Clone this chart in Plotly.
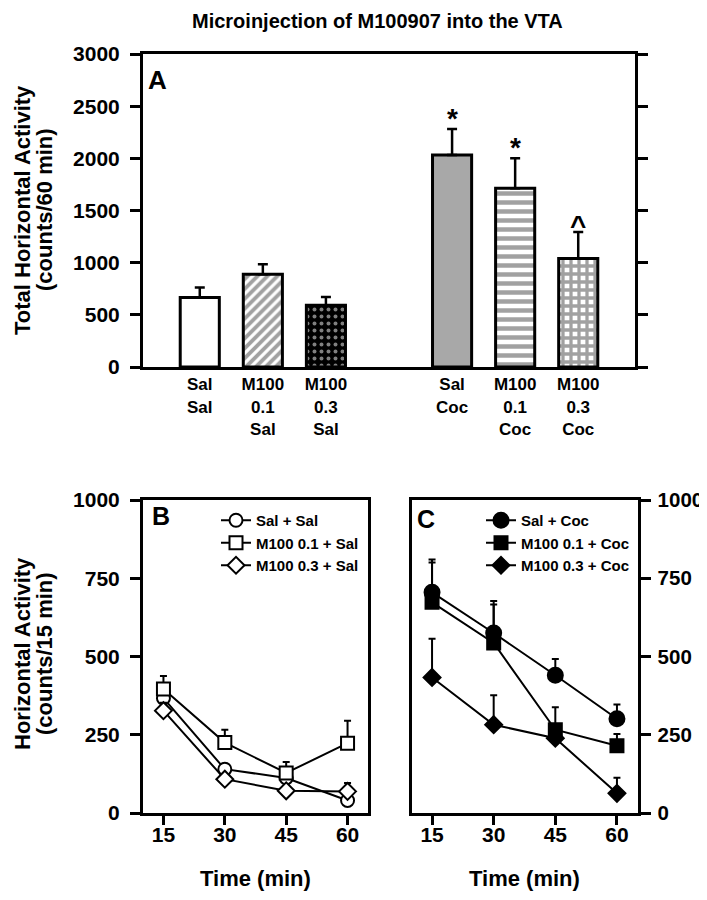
import plotly.graph_objects as go

# ---------------- data ----------------
# Panel A: total horizontal activity (counts/60 min)
bar_labels = ["Sal<br>Sal", "M100<br>0.1<br>Sal", "M100<br>0.3<br>Sal",
              "Sal<br>Coc", "M100<br>0.1<br>Coc", "M100<br>0.3<br>Coc"]
bar_means = [666, 890, 593, 2033, 1714, 1040]
bar_sem = [96, 96, 77, 249, 287, 253]
bar_marks = ["", "", "", "*", "*", "^"]
a_yticks = [0, 500, 1000, 1500, 2000, 2500, 3000]

# Panels B and C: horizontal activity (counts/15 min)
time_min = [15, 30, 45, 60]
line_yticks = [0, 250, 500, 750, 1000]

b_names = ["Sal + Sal", "M100 0.1 + Sal", "M100 0.3 + Sal"]
b_means = [[367, 140, 112, 40], [396, 225, 128, 223], [327, 108, 71, 69]]
b_sem = [[20, 12, 12, 15], [42, 41, 35, 72], [25, 12, 14, 27]]

c_names = ["Sal + Coc", "M100 0.1 + Coc", "M100 0.3 + Coc"]
c_means = [[705, 575, 440, 301], [673, 543, 266, 215], [433, 282, 239, 63]]
c_sem = [[105, 102, 52, 46], [127, 123, 72, 37], [124, 94, 10, 50]]

# ---------------- styling ----------------
PAGE_OFF = 8            # default html body margin
W, H = 707 - PAGE_OFF, 900 - PAGE_OFF
FONT = "Liberation Sans, Arial, Helvetica, sans-serif"
symbols = ["circle", "square", "diamond"]
sizes_b = [13, 13, 13]
sizes_c = [15, 13, 13]

# bar positions: one empty slot between saline and cocaine groups
bar_pos = [i + (1 if i >= 3 else 0) for i in range(len(bar_means))]


def px_x(p):
    return (p - PAGE_OFF) / W


def px_y(p):
    return 1 - (p - PAGE_OFF) / H


fig = go.Figure()

fig.add_trace(go.Bar(
    x=bar_pos, y=bar_means, width=0.62,
    marker=dict(
        color=["white", "white", "black", "#a8a8a8", "white", "white"],
        line=dict(color="black", width=3),
        pattern=dict(
            shape=["", "/", ".", "", "-", "+"],
            fgcolor=["black", "black", "white", "black", "black", "black"],
            bgcolor=["white", "white", "black", "#a8a8a8", "white", "white"],
            size=[8, 7, 7, 8, 9, 8],
            solidity=[0.3, 0.55, 0.25, 0.3, 0.5, 0.65],
            fillmode="overlay",
        ),
    ),
    error_y=dict(type="data", symmetric=False, array=bar_sem,
                 arrayminus=[0] * len(bar_sem), color="black",
                 thickness=2.5, width=5),
    xaxis="x", yaxis="y", showlegend=False,
))

for names, means, sems, sizes, fill, xa, ya, lg in [
    (b_names, b_means, b_sem, sizes_b, "white", "x2", "y2", "legend"),
    (c_names, c_means, c_sem, sizes_c, "black", "x3", "y3", "legend2"),
]:
    for k in range(len(names)):
        fig.add_trace(go.Scatter(
            x=time_min, y=means[k], name=names[k], mode="lines+markers",
            line=dict(color="black", width=2),
            marker=dict(symbol=symbols[k], size=sizes[k], color=fill,
                        line=dict(color="black", width=2)),
            error_y=dict(type="data", symmetric=False, array=sems[k],
                         arrayminus=[0] * len(sems[k]), color="black",
                         thickness=2, width=3.5),
            xaxis=xa, yaxis=ya, legend=lg, cliponaxis=False,
        ))


def axis(**kw):
    base = dict(showgrid=False, zeroline=False, linecolor="black",
                linewidth=3, ticks="outside", tickwidth=3, ticklen=10,
                tickcolor="black", automargin=False,
                tickfont=dict(size=21, family=FONT, color="black"))
    base.update(kw)
    return base


fig.update_layout(
    template="none",
    width=W, height=H,
    margin=dict(l=0, r=0, t=0, b=0, autoexpand=False),
    paper_bgcolor="white", plot_bgcolor="white",
    font=dict(family=FONT, color="black", weight="bold"),
    xaxis=axis(ticks="", domain=[px_x(143), px_x(635)], range=[-0.9, 6.9],
               tickvals=bar_pos, ticktext=bar_labels,
               tickfont=dict(size=17, family=FONT, color="black"),
               mirror=True, anchor="y"),
    yaxis=axis(domain=[px_y(367), px_y(54)], ticklabelstandoff=6,
               range=[0, 3000], tickvals=a_yticks, mirror="ticks",
               anchor="x"),
    xaxis2=axis(ticklen=9, domain=[px_x(143), px_x(368)], range=[10, 65],
                tickvals=time_min, mirror=True, anchor="y2",
                ticklabelstandoff=-8),
    yaxis2=axis(domain=[px_y(813), px_y(500)], ticklabelstandoff=6,
                range=[0, 1000], tickvals=line_yticks, mirror=True,
                anchor="x2"),
    xaxis3=axis(ticklen=9, domain=[px_x(411.5), px_x(637.5)], range=[10, 65],
                tickvals=time_min, mirror=True, anchor="y3",
                ticklabelstandoff=-8),
    yaxis3=axis(domain=[px_y(813), px_y(500)], ticklabelstandoff=3,
                range=[0, 1000], tickvals=line_yticks, mirror=True,
                side="right", anchor="x3",
                tickfont=dict(size=20.5, family=FONT, color="black")),
    legend=dict(x=px_x(216), y=px_y(504), xanchor="left", yanchor="top",
                bgcolor="rgba(0,0,0,0)", font=dict(size=15, family=FONT),
                tracegroupgap=0),
    legend2=dict(x=px_x(481), y=px_y(504), xanchor="left", yanchor="top",
                 bgcolor="rgba(0,0,0,0)", font=dict(size=15, family=FONT),
                 tracegroupgap=0),
)


def rot_title(text, xc, yc):
    return dict(text=text, textangle=-90, x=px_x(xc), y=px_y(yc),
                xref="paper", yref="paper", xanchor="center",
                yanchor="middle", showarrow=False, font=dict(size=22))


annotations = [
    dict(text="Microinjection of M100907 into the VTA", x=px_x(377),
         y=px_y(21), xref="paper", yref="paper", xanchor="center",
         yanchor="middle", showarrow=False, font=dict(size=20)),
    rot_title("Total Horizontal Activity", 22, 210),
    rot_title("(counts/60 min)", 44, 210),
    rot_title("Horizontal Activity", 22, 654),
    rot_title("(counts/15 min)", 44, 654),
    dict(text="Time (min)", x=px_x(255.5), y=px_y(878), xref="paper",
         yref="paper", xanchor="center", yanchor="middle", showarrow=False,
         font=dict(size=22)),
    dict(text="Time (min)", x=px_x(524.5), y=px_y(878), xref="paper",
         yref="paper", xanchor="center", yanchor="middle", showarrow=False,
         font=dict(size=22)),
    dict(text="A", x=px_x(146), y=px_y(80), xref="paper", yref="paper",
         xanchor="left", yanchor="middle", showarrow=False,
         font=dict(size=26)),
    dict(text="B", x=px_x(150), y=px_y(516), xref="paper", yref="paper",
         xanchor="left", yanchor="middle", showarrow=False,
         font=dict(size=25)),
    dict(text="C", x=px_x(415), y=px_y(519), xref="paper", yref="paper",
         xanchor="left", yanchor="middle", showarrow=False,
         font=dict(size=25)),
]
for i, mark in enumerate(bar_marks):
    if mark:
        annotations.append(dict(
            text=mark, x=bar_pos[i], y=bar_means[i] + bar_sem[i],
            xref="x", yref="y", xanchor="center", yanchor="bottom",
            showarrow=False, font=dict(size=28),
            yshift=-11 if mark == "^" else -7))
fig.update_layout(annotations=annotations)

fig.write_html("out.html")
